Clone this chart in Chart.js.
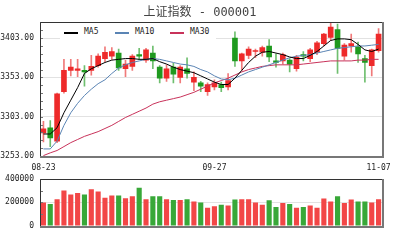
<!DOCTYPE html>
<html><head><meta charset="utf-8">
<script src="https://cdn.jsdelivr.net/npm/chart.js@4"></script>
<style>
html,body{margin:0;padding:0;background:#fff;}
#wrap{position:relative;width:400px;height:240px;overflow:hidden;background:#fff;}
#main{position:absolute;left:0;top:0;}
#vol{position:absolute;left:0;top:168px;}
#legend{position:absolute;left:60px;top:23px;width:156px;height:19px;background:#fff;font:8px 'DejaVu Sans Mono',monospace;color:#222;z-index:2;}
#legend .ln{position:absolute;top:9px;width:14px;height:2px;}
#legend .tx{position:absolute;top:4px;line-height:10px;}
</style></head>
<body><div id="wrap">
<canvas id="main" width="400" height="175"></canvas>
<canvas id="vol" width="400" height="72"></canvas>
<div id="legend">
<div class="ln" style="left:4px;background:#000"></div><span class="tx" style="left:24px">MA5</span>
<div class="ln" style="left:55px;background:#5a84b4"></div><span class="tx" style="left:75px">MA10</span>
<div class="ln" style="left:110px;background:#c8325a"></div><span class="tx" style="left:130px">MA30</span>
</div>
</div>
<script>
const titleText = '上证指数 - 000001';
const dates = ['08-23','08-24','08-25','08-28','08-29','08-30','08-31','09-01','09-04','09-05','09-06','09-07','09-08','09-11','09-12','09-13','09-14','09-15','09-18','09-19','09-20','09-21','09-22','09-25','09-26','09-27','09-28','09-29','10-09','10-10','10-11','10-12','10-13','10-16','10-17','10-18','10-19','10-20','10-23','10-24','10-25','10-26','10-27','10-30','10-31','11-01','11-02','11-03','11-06','11-07'];
const shownTicks = ['08-23','09-27','11-07'];
const opens  = [3282.5,3289,3272,3335,3362,3362,3362,3362,3368,3377,3380,3384,3364,3367,3382,3375,3384,3366,3352,3366,3353,3364,3347,3346,3335,3341,3344,3341,3403,3374,3381,3386,3385,3393,3374,3374,3375,3364,3382,3377,3385,3396,3404,3414,3380,3393,3392,3377,3368,3387];
const closes = [3287.6,3276,3332,3362,3366,3364,3360,3367,3380,3385,3386,3365,3370,3380,3380,3388,3374,3352,3364,3357,3366,3358,3353,3342,3344,3346,3340,3349,3374,3383,3389,3387,3391,3379,3372,3382,3370,3379,3380,3388,3397,3408,3417,3390,3394,3396,3383,3372,3388,3408];
const highs  = [3297,3298,3333,3376,3376,3376,3368,3381,3383,3392,3391,3389,3375,3382,3390,3390,3393,3368,3369,3371,3368,3378,3360,3348,3346,3350,3347,3358,3411,3384,3392,3389,3393,3401,3383,3384,3377,3381,3386,3390,3399,3409,3422,3421,3396,3408,3398,3381,3389,3415];
const lows   = [3271,3265,3270,3333,3355,3354,3342,3356,3366,3373,3376,3362,3354,3362,3376,3372,3364,3346,3348,3346,3346,3352,3336,3335,3330,3337,3335,3337,3367,3362,3377,3378,3380,3373,3366,3370,3360,3361,3374,3373,3382,3393,3400,3358,3375,3385,3372,3347,3355,3385];
const ma5  = [3281,3281,3289,3308,3324,3340,3358,3364,3368,3372,3375,3376,3377,3377,3376,3376,3377,3373,3370,3366,3363,3361,3359,3355,3351,3347,3344,3344,3352,3362,3372,3380,3385,3386,3384,3382,3379,3377,3377,3381,3386,3393,3400,3402,3402,3401,3395,3388,3386,3389];
const ma10 = [3262,3262,3272,3292,3308,3320,3330,3338,3345,3350,3358,3365,3369,3372,3374,3376,3377,3376,3374,3372,3370,3369,3367,3363,3360,3355,3351,3350,3352,3356,3360,3363,3366,3369,3372,3375,3378,3380,3381,3382,3384,3386,3388,3390,3391,3392,3393,3393,3394,3395];
const ma30 = [3253.5,3257,3260,3265,3270,3274,3278,3281,3284,3288,3292,3297,3302,3306,3310,3314,3319,3322,3324,3326,3328,3331,3334,3338,3342,3346,3349,3352,3356,3360,3363,3365,3367,3368,3369,3369,3369,3369,3370,3371,3372,3373,3374,3374,3374,3374,3375,3375,3376,3376];
const volumes = [200000,187000,227000,301000,267000,280000,267000,312000,293000,240000,259000,259000,235000,253000,325000,227000,253000,253000,227000,221000,221000,227000,208000,200000,155000,168000,181000,173000,224000,227000,227000,200000,181000,219000,160000,195000,187000,155000,160000,173000,155000,232000,208000,253000,195000,224000,208000,208000,200000,227000];
const priceTicks = {min:3253, max:3423, step:10, labelStep:50};
const volTicks = {min:0, max:400000, step:100000, labelStep:200000};

const UP='#ee2a2a', DOWN='#1f9a1f', UPW='#f07a7a', DOWNW='#6fbf6f', VUP='#f24646', VDOWN='#38a838';
const isUp = closes.map((c,i)=>c>=opens[i]);
const FONT = {family:"'DejaVu Sans Mono', monospace", size:8};

const framePlugin = {id:'frame', afterDraw(c){
  const ctx=c.ctx, a=c.chartArea;
  const l=Math.round(a.left), t=Math.round(a.top), r=Math.round(a.right), b=Math.round(a.bottom);
  ctx.save();
  // inner tick marks on the value axis
  const ys=c.scales.y;
  ctx.strokeStyle='#777'; ctx.lineWidth=1;
  ctx.beginPath();
  ys.ticks.forEach(tk=>{ const py=Math.round(ys.getPixelForValue(tk.value))+0.5; ctx.moveTo(l,py); ctx.lineTo(l+3,py); });
  ctx.stroke();
  ctx.strokeStyle='#333'; ctx.lineWidth=1;
  ctx.beginPath(); ctx.moveTo(l+0.5,b); ctx.lineTo(l+0.5,t+0.5); ctx.lineTo(r,t+0.5); ctx.stroke();
  ctx.strokeStyle='#777'; ctx.lineWidth=2;
  ctx.beginPath(); ctx.moveTo(r+1,t); ctx.lineTo(r+1,b+1); ctx.lineTo(l,b+1); ctx.stroke();
  ctx.restore();
}};

function yAxis(cfg){
  return {
    min:cfg.min, max:cfg.max,
    afterBuildTicks(s){ const t=[]; for(let v=cfg.min; v<=cfg.max+1e-6; v+=cfg.step) t.push({value:v}); s.ticks=t; },
    afterFit(s){ s.width=40; },
    border:{display:false},
    grid:{
      color:(ctx)=>{ const v=ctx.tick&&ctx.tick.value; return (v!==undefined && (v-cfg.min)%cfg.labelStep===0 && v!==cfg.min && v!==cfg.max)?'#e2e2e2':'rgba(0,0,0,0)'; },
      lineWidth:1, drawTicks:false, tickLength:0
    },
    ticks:{ autoSkip:false, font:FONT, color:'#222', padding:6,
      callback:(v)=> ((v-cfg.min)%cfg.labelStep===0) ? (cfg.labelStep===50 ? Number(v).toFixed(2) : String(v)) : '' }
  };
}
const rightPad = {display:true, position:'right', afterFit(s){s.width=18;}, ticks:{display:false}, grid:{display:false, drawTicks:false}, border:{display:false}};

new Chart(document.getElementById('main'), {
  type:'bar',
  data:{ labels:dates, datasets:[
    {type:'line', label:'MA5', data:ma5, borderColor:'#000', borderWidth:1, pointRadius:0, tension:0, order:0},
    {type:'line', label:'MA10', data:ma10, borderColor:'#5a84b4', borderWidth:1, pointRadius:0, tension:0, order:0},
    {type:'line', label:'MA30', data:ma30, borderColor:'#c8325a', borderWidth:1, pointRadius:0, tension:0, order:0},
    {label:'body', data:opens.map((o,i)=>[o,closes[i]]), backgroundColor:isUp.map(u=>u?UP:DOWN), barThickness:5, grouped:false, minBarLength:1, order:1},
    {label:'wick', data:lows.map((l,i)=>[l,highs[i]]), backgroundColor:isUp.map(u=>u?UPW:DOWNW), barThickness:1, grouped:false, order:2}
  ]},
  options:{
    responsive:false, animation:false, devicePixelRatio:1,
    layout:{padding:0},
    plugins:{legend:{display:false}, tooltip:{enabled:false},
      title:{display:true, text:titleText, color:'#444', font:{family:"'DejaVu Sans Mono','Noto Sans CJK SC',monospace", size:12, weight:'normal'}, padding:{top:6,bottom:2}}},
    scales:{
      x:{ offset:true, grid:{display:false, drawTicks:false, tickLength:0}, border:{display:false},
          ticks:{autoSkip:false, maxRotation:0, font:FONT, color:'#222', padding:7,
            callback:(v,i)=> shownTicks.includes(dates[i]) ? dates[i] : ''},
          afterFit(s){ s.height=19; } },
      y: yAxis(priceTicks),
      yr: rightPad
    }
  },
  plugins:[framePlugin]
});

new Chart(document.getElementById('vol'), {
  type:'bar',
  data:{ labels:dates, datasets:[
    {label:'VOL', data:volumes, backgroundColor:isUp.map(u=>u?VUP:VDOWN), barPercentage:0.75, categoryPercentage:1}
  ]},
  options:{
    responsive:false, animation:false, devicePixelRatio:1,
    layout:{padding:{top:8,bottom:14}},
    plugins:{legend:{display:false}, tooltip:{enabled:false}},
    scales:{
      x:{display:false, offset:true},
      y: yAxis(volTicks),
      yr: rightPad
    }
  },
  plugins:[framePlugin]
});
</script>
</body></html>
